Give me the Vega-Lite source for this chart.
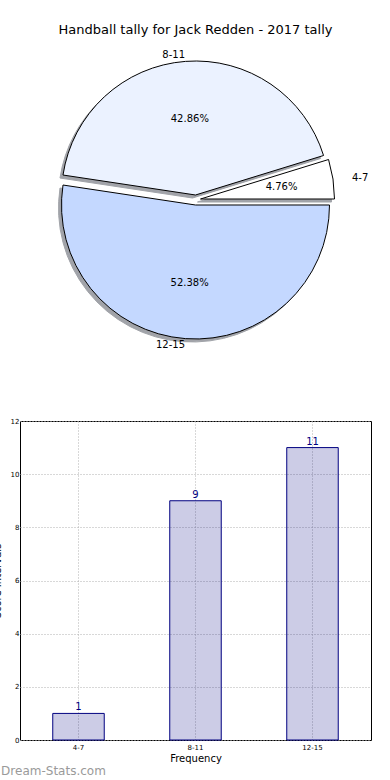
{
  "$schema": "https://vega.github.io/schema/vega-lite/v6.json",
  "padding": {"left": -9, "top": 24, "right": 0, "bottom": 0},
  "config": {"font": "DejaVu Sans", "view": {"stroke": null}},
  "datasets": {
    "tally": [
      {"interval": "4-7", "count": 1, "share": 0.0476},
      {"interval": "8-11", "count": 9, "share": 0.4286},
      {"interval": "12-15", "count": 11, "share": 0.5238}
    ]
  },
  "spacing": 64,
  "vconcat": [
    {
      "width": 351,
      "height": 304,
      "data": {"name": "tally"},
      "title": {"text": "Handball tally for Jack Redden - 2017 tally", "fontSize": 13, "fontWeight": "normal", "color": "#000000", "anchor": "middle", "offset": 11},
      "encoding": {
        "theta": {"field": "count", "type": "quantitative", "stack": true, "scale": {"range": [1.5708, -4.7124]}},
        "order": {"field": "count", "type": "quantitative", "sort": "ascending"}
      },
      "layer": [
        {"mark": {"type": "arc", "radius": 134, "fill": "#454a55", "stroke": "#454a55", "strokeWidth": 1, "xOffset": 2, "yOffset": 2},
         "encoding": {"opacity": {"condition": {"test": "datum.interval === '4-7'", "value": 0.5}, "value": 0}}},
        {"mark": {"type": "arc", "radius": 134, "fill": "#454a55", "stroke": "#454a55", "strokeWidth": 1, "xOffset": -3, "yOffset": -2},
         "encoding": {"opacity": {"condition": {"test": "datum.interval === '8-11'", "value": 0.5}, "value": 0}}},
        {"mark": {"type": "arc", "radius": 134, "fill": "#454a55", "stroke": "#454a55", "strokeWidth": 1, "xOffset": -3, "yOffset": 8},
         "encoding": {"opacity": {"condition": {"test": "datum.interval === '12-15'", "value": 0.5}, "value": 0}}},
        {"mark": {"type": "arc", "radius": 134, "fill": "#ffffff", "stroke": "#000000", "strokeWidth": 1, "xOffset": 5, "yOffset": -1},
         "encoding": {"opacity": {"condition": {"test": "datum.interval === '4-7'", "value": 1}, "value": 0}}},
        {"mark": {"type": "arc", "radius": 134, "fill": "#ebf2ff", "stroke": "#000000", "strokeWidth": 1, "xOffset": 0, "yOffset": -5},
         "encoding": {"opacity": {"condition": {"test": "datum.interval === '8-11'", "value": 1}, "value": 0}}},
        {"mark": {"type": "arc", "radius": 134, "fill": "#c4d8ff", "stroke": "#000000", "strokeWidth": 1, "xOffset": 0, "yOffset": 5},
         "encoding": {"opacity": {"condition": {"test": "datum.interval === '12-15'", "value": 1}, "value": 0}}},
        {"mark": {"type": "text", "radius": 82, "fontSize": 10, "color": "#000000", "xOffset": 5, "yOffset": -1},
         "encoding": {"text": {"field": "share", "type": "quantitative", "format": ".2%"},
                      "opacity": {"condition": {"test": "datum.interval === '4-7'", "value": 1}, "value": 0}}},
        {"mark": {"type": "text", "radius": 76, "fontSize": 10, "color": "#000000", "xOffset": 0, "yOffset": -5},
         "encoding": {"text": {"field": "share", "type": "quantitative", "format": ".2%"},
                      "opacity": {"condition": {"test": "datum.interval === '8-11'", "value": 1}, "value": 0}}},
        {"mark": {"type": "text", "radius": 78, "fontSize": 10, "color": "#000000", "xOffset": 0, "yOffset": 5},
         "encoding": {"text": {"field": "share", "type": "quantitative", "format": ".2%"},
                      "opacity": {"condition": {"test": "datum.interval === '12-15'", "value": 1}, "value": 0}}},
        {"mark": {"type": "text", "radius": 140, "dx": 13, "fontSize": 10, "align": "left", "color": "#000000", "xOffset": 5, "yOffset": -1},
         "encoding": {"text": {"field": "interval", "type": "nominal"},
                      "opacity": {"condition": {"test": "datum.interval === '4-7'", "value": 1}, "value": 0}}},
        {"mark": {"type": "text", "radius": 140, "fontSize": 10, "align": "right", "color": "#000000", "xOffset": 0, "yOffset": -5},
         "encoding": {"text": {"field": "interval", "type": "nominal"},
                      "opacity": {"condition": {"test": "datum.interval === '8-11'", "value": 1}, "value": 0}}},
        {"mark": {"type": "text", "radius": 140, "fontSize": 10, "align": "right", "color": "#000000", "xOffset": 0, "yOffset": 5},
         "encoding": {"text": {"field": "interval", "type": "nominal"},
                      "opacity": {"condition": {"test": "datum.interval === '12-15'", "value": 1}, "value": 0}}}
      ]
    },
    {
      "width": 351,
      "height": 319,
      "view": {"stroke": "#000000", "strokeWidth": 1},
      "data": {"name": "tally"},
      "title": {"text": "Dream-Stats.com", "orient": "bottom", "anchor": "start", "frame": "bounds", "fontSize": 12, "fontWeight": "normal", "color": "#9a9a9a", "offset": 3, "dx": 9},
      "encoding": {
        "x": {
          "field": "interval", "type": "nominal", "sort": null,
          "scale": {"paddingInner": 0, "paddingOuter": 0},
          "axis": {"title": "Frequency", "titleFontSize": 10, "titleFontWeight": "normal", "titleColor": "#000000", "titlePadding": 3,
                   "labelAngle": 0, "labelFontSize": 7, "labelColor": "#000000", "labelPadding": 3,
                   "ticks": false, "domain": false, "grid": true, "bandPosition": 0.5,
                   "gridColor": "#b0b0b0", "gridDash": [1, 2], "gridWidth": 1}
        },
        "y": {
          "field": "count", "type": "quantitative",
          "scale": {"domain": [0, 12], "nice": false},
          "axis": {"title": "Score Intervals", "titleFontSize": 10, "titleFontWeight": "normal", "titleColor": "#000000", "titlePadding": 8,
                   "values": [0, 2, 4, 6, 8, 10, 12], "format": "d",
                   "labelFontSize": 7, "labelColor": "#000000", "labelPadding": 1,
                   "ticks": false, "domain": false, "grid": true,
                   "gridColor": "#b0b0b0", "gridDash": [1, 2], "gridWidth": 1}
        }
      },
      "layer": [
        {"mark": {"type": "bar", "width": {"band": 0.44}, "fill": "#000080", "fillOpacity": 0.2, "stroke": "#000080", "strokeWidth": 1}},
        {"mark": {"type": "text", "baseline": "bottom", "dy": -1, "fontSize": 10, "color": "#000080"},
         "encoding": {"text": {"field": "count", "type": "quantitative"}}}
      ]
    }
  ]
}
